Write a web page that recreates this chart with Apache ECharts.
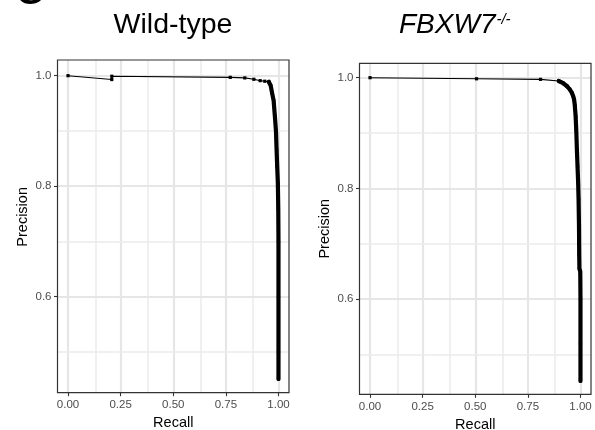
<!DOCTYPE html>
<html><head><meta charset="utf-8">
<script src="https://cdn.jsdelivr.net/npm/echarts@6/dist/echarts.min.js"></script>
<style>html,body{margin:0;padding:0;background:#fff}#c{width:595px;height:430px}</style>
</head><body><div id="c"></div>
<script>
// ---- data ----
const xTicks = [0, 0.25, 0.5, 0.75, 1.0];
const xMinor = [0.125, 0.375, 0.625, 0.875];
const yTicks = [0.6, 0.8, 1.0];
const yMinor = [0.5, 0.7, 0.9];
const panelTitles = ['Wild-type', 'FBXW7', '-/-'];
const axisNames = ['Recall', 'Precision'];

const recallWT    = [0.000, 0.208, 0.208, 0.771, 0.840, 0.883, 0.913, 0.935, 0.954, 0.963, 0.970, 0.977, 0.983, 0.988, 0.991, 0.994, 0.997, 0.999, 1.000, 1.000, 1.000, 1.000];
const precisionWT = [1.000, 0.993, 0.999, 0.997, 0.996, 0.9935, 0.991, 0.990, 0.989, 0.982, 0.968, 0.955, 0.926, 0.900, 0.866, 0.835, 0.806, 0.760, 0.700, 0.600, 0.500, 0.451];
const denseStartWT = 8;

const recallKO    = [0.000, 0.506, 0.810, 0.897, 0.905, 0.918, 0.935, 0.949, 0.960, 0.966, 0.970, 0.973, 0.977, 0.980, 0.983, 0.986, 0.989, 0.991, 0.993, 0.994, 0.995, 0.999, 1.000, 1.000, 1.000];
const precisionKO = [1.000, 0.998, 0.997, 0.994, 0.993, 0.990, 0.985, 0.979, 0.972, 0.966, 0.960, 0.950, 0.930, 0.905, 0.870, 0.840, 0.810, 0.780, 0.730, 0.680, 0.655, 0.650, 0.600, 0.520, 0.452];
const denseStartKO = 3;

// ---- build ----
const FONT = '"Liberation Sans", Arial, Helvetica, sans-serif';
const pairs = (xs, ys) => xs.map((x, i) => [x, ys[i]]);
const dataWT = pairs(recallWT, precisionWT);
const dataKO = pairs(recallKO, precisionKO);

const grids = [
  {left: 57.5, top: 60, width: 231.5, height: 332.7},
  {left: 359.5, top: 63.3, width: 231.5, height: 331}
];
const yRanges = [[0.4262, 1.0284], [0.4278, 1.026]];
const namePad = [[0,0,0,19],[0,0,0,0]];

const xAxes = [], yAxes = [];
grids.forEach((g, gi) => {
  xAxes.push({
    type: 'value', gridIndex: gi, min: -0.05, max: 1.05, position: 'bottom',
    axisLine: {show: false, onZero: false},
    axisTick: {show: true, length: 3.5, customValues: xTicks, lineStyle: {color: '#333', width: 1.1}},
    axisLabel: {customValues: xTicks, formatter: v => v.toFixed(2), color: '#4d4d4d', fontSize: 11.5, margin: 6.5, fontFamily: FONT},
    splitLine: {show: false},
    name: axisNames[0], nameLocation: 'middle', nameGap: 23, nameMoveOverlap: false,
    nameTextStyle: {color: '#000', fontSize: 14.5, fontFamily: FONT}
  });
  yAxes.push({
    type: 'value', gridIndex: gi, min: yRanges[gi][0], max: yRanges[gi][1], position: 'left',
    axisLine: {show: false, onZero: false},
    axisTick: {show: true, length: 3.5, customValues: yTicks, lineStyle: {color: '#333', width: 1.1}},
    axisLabel: {customValues: yTicks, formatter: v => v.toFixed(1), color: '#4d4d4d', fontSize: 11.5, margin: 6, fontFamily: FONT},
    splitLine: {show: false},
    name: axisNames[1], nameLocation: 'middle', nameGap: 27, nameMoveOverlap: false,
    nameTextStyle: {color: '#000', fontSize: 14.5, fontFamily: FONT, padding: namePad[gi]}
  });
});

function gridLineData() {
  const major = {color: '#e6e6e6', width: 2.2, type: 'solid'};
  const minor = {color: '#ebebeb', width: 1.5, type: 'solid'};
  return []
    .concat(xTicks.map(v => ({xAxis: v, lineStyle: major})))
    .concat(xMinor.map(v => ({xAxis: v, lineStyle: minor})))
    .concat(yTicks.map(v => ({yAxis: v, lineStyle: major})))
    .concat(yMinor.map(v => ({yAxis: v, lineStyle: minor})));
}

function curveSeries(data, denseStart, gi) {
  return [
    {type: 'line', xAxisIndex: gi, yAxisIndex: gi, data: data,
     symbol: 'rect', symbolSize: 3.2, showSymbol: true,
     lineStyle: {color: '#000', width: 1.1}, itemStyle: {color: '#000'},
     z: 3, animation: false, silent: true,
     markLine: {silent: true, z: 1, symbol: ['none', 'none'], label: {show: false},
       emphasis: {disabled: true}, animation: false, data: gridLineData()}},
    {type: 'line', xAxisIndex: gi, yAxisIndex: gi, data: data.slice(denseStart),
     symbol: 'none', lineStyle: {color: '#000', width: 4.2, join: 'round', cap: 'round'},
     z: 3, animation: false, silent: true}
  ];
}

const chart = echarts.init(document.getElementById('c'), null, {renderer: 'canvas'});
chart.setOption({
  animation: false,
  backgroundColor: '#fff',
  grid: grids.map(g => Object.assign({show: true, z: 10, backgroundColor: 'transparent',
    borderColor: '#333', borderWidth: 1.2, containLabel: false, outerBoundsMode: 'none'}, g)),
  xAxis: xAxes,
  yAxis: yAxes,
  series: [].concat(curveSeries(dataWT, denseStartWT, 0), curveSeries(dataKO, denseStartKO, 1)),
  graphic: [
    {type: 'text', x: 30, y: -5, silent: true,
     style: {text: 'G', fontSize: 34, fontWeight: 'bold', fontFamily: FONT, fill: '#000', align: 'center', verticalAlign: 'middle'}},
    {type: 'text', x: 173, y: 25.5, silent: true,
     style: {text: panelTitles[0], fontSize: 28.5, fontFamily: FONT, fill: '#000', align: 'center', verticalAlign: 'middle'}},
    {type: 'text', x: 399, y: 25.5, silent: true,
     style: {text: '{a|' + panelTitles[1] + '}{s|' + panelTitles[2] + '}', align: 'left', verticalAlign: 'middle',
       rich: {a: {fontSize: 28, fontStyle: 'italic', fontFamily: FONT, fill: '#000'},
              s: {fontSize: 15, fontStyle: 'italic', fontFamily: FONT, fill: '#000', verticalAlign: 'top', padding: [1,0,0,1]}}}}
  ]
});
</script>
</body></html>
